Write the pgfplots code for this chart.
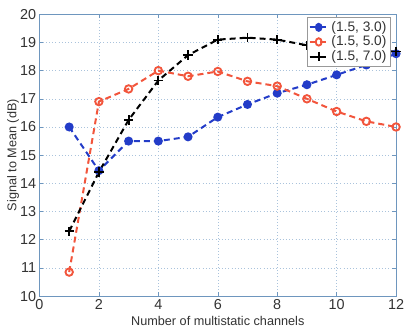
\documentclass[border=0pt]{standalone}
\usepackage{fontspec}
\setmainfont{Liberation Sans}
\usepackage{pgfplots}
\pgfplotsset{compat=1.18}
\definecolor{mblue}{RGB}{35,60,200}
\definecolor{mred}{RGB}{242,85,60}
\definecolor{axcol}{RGB}{110,150,190}
\definecolor{gridcol}{RGB}{170,195,220}
\begin{document}
\begin{tikzpicture}
\path[use as bounding box] (-29.6pt,-22.5pt) rectangle (275.6pt,222pt);
\begin{axis}[
  at={(0,0)}, anchor=south west,
  scale only axis, width=267.4pt, height=211.3pt,
  xmin=0, xmax=12, ymin=10, ymax=20,
  xtick={0,2,...,12}, ytick={10,11,...,20},
  tick align=inside, tick style={axcol, thin},
  major tick length=3pt,
  axis line style={axcol, thin},
  grid=major, grid style={gridcol, dotted, thin},
  /pgf/number format/assume math mode=true,
  ticklabel style={font=\fontsize{10.8}{11}\selectfont, text=black!80},
  xticklabel style={yshift=1pt},
  yticklabel style={xshift=1pt},
  xlabel={Number of multistatic channels},
  ylabel={Signal to Mean (dB)},
  label style={font=\fontsize{9.5}{10}\selectfont, text=black!80},
  xlabel style={yshift=2pt},
  ylabel style={yshift=-6pt},
  legend style={at={(0.985,0.99)}, anchor=north east, font=\fontsize{10.3}{11}\selectfont,
    draw=black!40, fill=white, inner sep=1pt, row sep=-2pt, text=black!80},
  legend cell align=left,
  legend image post style={xscale=0.8},
  every axis plot/.append style={line width=1.5pt, dash pattern=on 4.5pt off 3pt},
]
\addplot[mblue, mark=*, mark size=2.6pt, mark options={solid, fill=mblue}] coordinates {
(1,16.0) (2,14.45) (3,15.5) (4,15.5) (5,15.65) (6,16.35) (7,16.8) (8,17.2) (9,17.5) (10,17.85) (11,18.2) (12,18.6)};
\addlegendentry{(1.5, 3.0)}
\addplot[mred, mark=o, mark size=2.8pt, mark options={solid, line width=1.4pt}] coordinates {
(1,10.85) (2,16.9) (3,17.35) (4,18.0) (5,17.8) (6,17.97) (7,17.62) (8,17.45) (9,17.0) (10,16.55) (11,16.2) (12,16.0)};
\addlegendentry{(1.5, 5.0)}
\addplot[black, mark=+, mark size=3.5pt, mark options={solid, line width=1.4pt}] coordinates {
(1,12.3) (2,14.4) (3,16.25) (4,17.65) (5,18.55) (6,19.1) (7,19.17) (8,19.1) (9,18.9) (10,18.8) (11,18.72) (12,18.68)};
\addlegendentry{(1.5, 7.0)}
\end{axis}
\end{tikzpicture}
\end{document}
